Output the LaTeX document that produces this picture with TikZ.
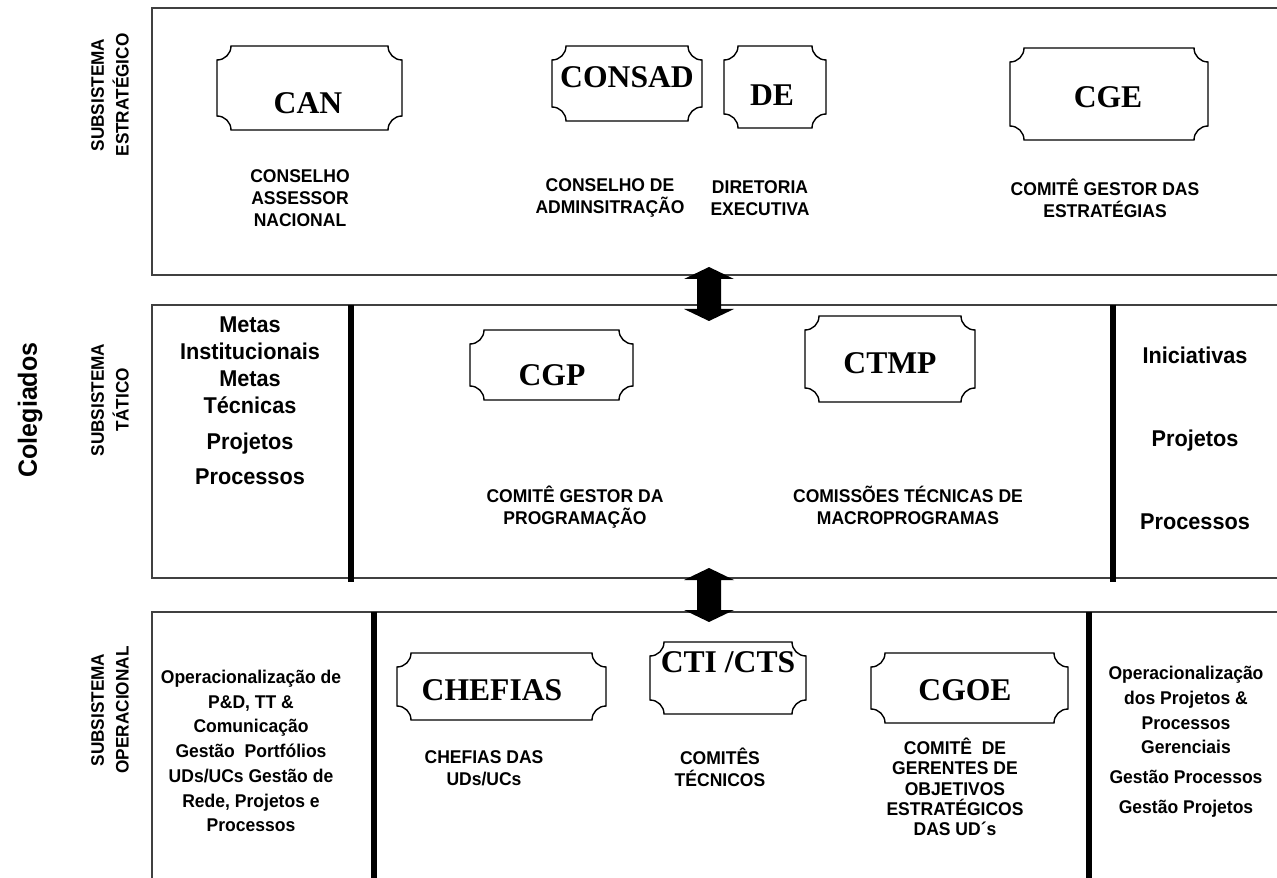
\documentclass[tikz,border=0pt]{standalone}
\usepackage{fontspec}
\setmainfont{Liberation Sans}[FakeStretch=0.95]
\newfontfamily\plaquefont{Liberation Serif}
\usetikzlibrary{positioning}

\newcommand\notch{14}

\begin{document}
\begin{tikzpicture}[
    x=0.02cm, y=0.02cm,
    every node/.style={font=\bfseries},
    panel/.style={draw=black!75, line width=0.85pt},
    bar/.style={line width=3.4pt},
    frame/.style={draw, line width=0.8pt},
    plaque/.style={font=\plaquefont\bfseries\fontsize{18}{20}\selectfont, inner sep=0pt},
    desc/.style={align=center, font=\bfseries\fontsize{10.5}{12.5}\selectfont, inner sep=0pt},
    side/.style={align=center, rotate=90, font=\bfseries\fontsize{10.3}{14}\selectfont, inner sep=0pt},
    item/.style={align=center, font=\bfseries\fontsize{13}{15.3}\selectfont, inner sep=0pt},
    note/.style={align=center, font=\bfseries\fontsize{10.5}{14.1}\selectfont, inner sep=0pt}
]
\useasboundingbox (0,0) rectangle (1277,-878);
\clip (0,0) rectangle (1277,-878);

% Panels of the three subsystems
\draw[panel] (1300,-8) -- (152,-8) -- (152,-275) -- (1300,-275);
\draw[panel] (1300,-305) -- (152,-305) -- (152,-578) -- (1300,-578);
\draw[panel] (1300,-612) -- (152,-612) -- (152,-900);

% Column separators
\draw[bar] (351,-305) -- (351,-582);
\draw[bar] (1113,-305) -- (1113,-582);
\draw[bar] (374,-612) -- (374,-878);
\draw[bar] (1089,-612) -- (1089,-878);

% Block arrows between the panels
\foreach \cy in {-294,-595}
    \fill[shift={(709,\cy)}] (0,27) -- (25,15) -- (12,15) -- (12,-15) -- (25,-15)
        -- (0,-27) -- (-25,-15) -- (-12,-15) -- (-12,15) -- (-25,15) -- cycle;

% Plaque frames
\foreach \xa/\ya/\xb/\yb in {217/46/402/130, 552/46/702/121, 724/46/826/128,
        1010/48/1208/140, 470/330/633/400, 805/316/975/402,
        397/653/606/720, 650/642/806/714, 871/653/1068/723}
    \draw[frame] (\xa+\notch,-\ya) -- (\xb-\notch,-\ya)
        arc[start angle=180, end angle=270, radius=\notch]
        -- (\xb,-\yb+\notch) arc[start angle=90, end angle=180, radius=\notch]
        -- (\xa+\notch,-\yb) arc[start angle=0, end angle=90, radius=\notch]
        -- (\xa,-\ya-\notch) arc[start angle=270, end angle=360, radius=\notch]
        -- cycle;

% Left labels
\node[side, font=\bfseries\fontsize{15}{18}\selectfont] (coleg) at (30,-410) {Colegiados};
\node[side] (estrat) at (110,-95) {SUBSISTEMA\\ESTRATÉGICO};
\node[side] (tatico) at (110,-400) {SUBSISTEMA\\TÁTICO};
\node[side] (operac) at (110,-710) {SUBSISTEMA\\OPERACIONAL};

% Strategic subsystem
\node[plaque] (can) at (308,-103) {CAN};
\node[plaque] (consad) at (627,-77) {CONSAD};
\node[plaque] (de) at (772,-95) {DE};
\node[plaque] (cge) at (1108,-97) {CGE};
\node[desc] (candesc) at (300,-198) {CONSELHO\\ASSESSOR\\NACIONAL};
\node[desc] (consaddesc) at (610,-198) {CONSELHO DE\\ADMINSITRAÇÃO};
\node[desc] (dedesc) at (760,-198) {DIRETORIA\\EXECUTIVA};
\node[desc] (cgedesc) at (1105,-198) {COMITÊ GESTOR DAS\\ESTRATÉGIAS};

% Tactical subsystem
\node[item] (tatleft) at (250,-401) {Metas\\Institucionais\\Metas\\Técnicas\\[5pt]Projetos\\[5pt]Processos};
\node[item] (tatright) at (1195,-438) {Iniciativas\\[32pt]Projetos\\[32pt]Processos};
\node[plaque] (cgp) at (552,-375) {CGP};
\node[plaque] (ctmp) at (890,-363) {CTMP};
\node[desc] (cgpdesc) at (575,-507) {COMITÊ GESTOR DA\\PROGRAMAÇÃO};
\node[desc] (ctmpdesc) at (908,-505) {COMISSÕES TÉCNICAS DE\\MACROPROGRAMAS};

% Operational subsystem
\node[note] (opleft) at (251,-751) {Operacionalização de\\P\&D, TT \&\\Comunicação\\Gestão~ Portfólios\\UDs/UCs Gestão de\\Rede, Projetos e\\Processos};
\node[note] (opright) at (1186,-742) {Operacionalização\\dos Projetos \&\\Processos\\Gerenciais\\[3pt]Gestão Processos\\[3pt]Gestão Projetos};
\node[plaque] (chefias) at (492,-690) {CHEFIAS};
\node[plaque] (ctis) at (728,-662) {CTI /CTS};
\node[plaque] (cgoe) at (965,-690) {CGOE};
\node[desc] (chefiasdesc) at (484,-768) {CHEFIAS DAS\\UDs/UCs};
\node[desc] (ctisdesc) at (720,-767) {COMITÊS\\TÉCNICOS};
\node[desc, font=\bfseries\fontsize{10.5}{11.5}\selectfont] (cgoedesc) at (955,-787) {COMITÊ~ DE\\GERENTES DE\\OBJETIVOS\\ESTRATÉGICOS\\DAS UD´s};

\end{tikzpicture}
\end{document}
